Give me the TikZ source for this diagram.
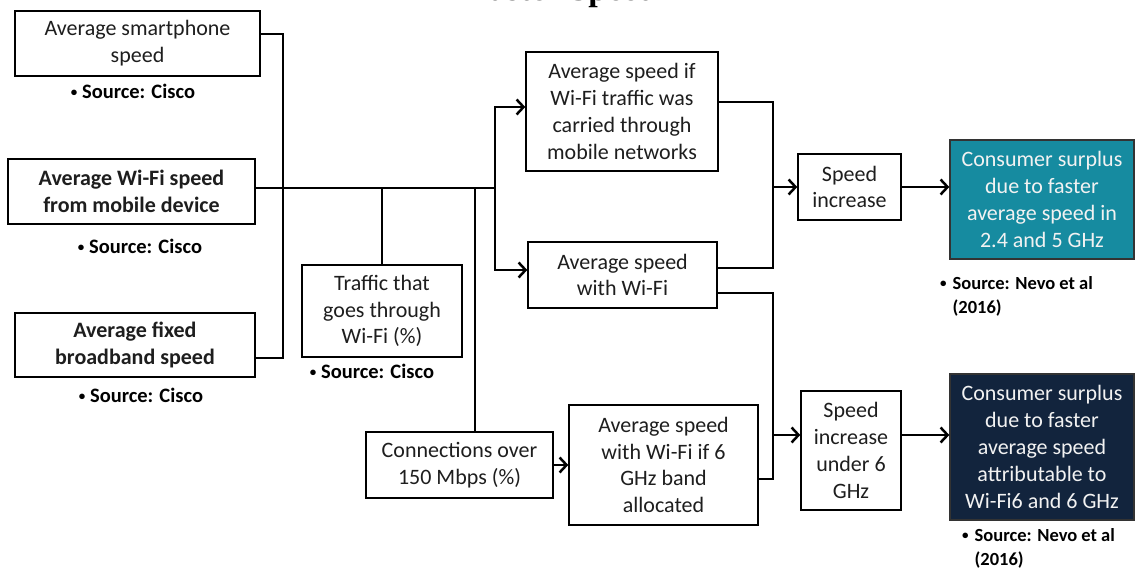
\documentclass[tikz,border=0pt]{standalone}
\usepackage{fontspec}
\setmainfont{Carlito}
\newfontfamily\headfont{Liberation Serif}
\usetikzlibrary{arrows.meta}

\definecolor{ink}{HTML}{1E1E1E}
\definecolor{tealbox}{HTML}{168BA0}
\definecolor{navybox}{HTML}{12243D}

\newcommand{\smallbullet}{{\fontsize{13}{13}\selectfont\raisebox{1.5pt}{•}}}

\tikzset{
  box/.style={draw=black, line width=1.4pt, fill=white, text=ink, align=center,
    inner sep=0pt, font=\fontsize{22}{26.8}\selectfont},
  boldbox/.style={box, font=\bfseries\fontsize{22}{26.8}\selectfont},
  colbox/.style={box, draw=black!80, text=white!95!black},
  src/.style={font=\bfseries\fontsize{20.5}{24}\selectfont, text=black, inner sep=0pt},
  srcsmall/.style={font=\bfseries\fontsize{18.5}{24}\selectfont, text=black, inner sep=0pt, anchor=north west},
  wire/.style={line width=2.5pt, line join=miter},
  arr/.style={wire, -{Straight Barb[length=7pt,width=15pt,line width=2.5pt]}},
}

\begin{document}
\begin{tikzpicture}[x=1pt, y=-1pt]
\useasboundingbox (0,0) rectangle (1135,570);
\clip (0,0) rectangle (1135,570);

% heading, mostly above the frame
\node[font=\headfont\bfseries\fontsize{34}{40}\selectfont, anchor=base east] (title) at (660,0.8) {Faster Speed};

% input boxes
\node[box, minimum width=245, minimum height=65] (b1) at (137.5,43.5) {Average smartphone\\speed};
\node[boldbox, minimum width=247, minimum height=65] (b2) at (131.5,191.5) {Average Wi-Fi speed\\from mobile device};
\node[boldbox, minimum width=240, minimum height=64] (b3) at (135,345) {Average fixed\\broadband speed};
\node[box, minimum width=160, minimum height=92] (b4) at (382,311) {Traffic that\\goes through\\Wi-Fi (\%)};
\node[box, minimum width=187, minimum height=66] (b5) at (459.5,465) {Connections over\\150 Mbps (\%)};

% intermediate boxes
\node[box, minimum width=192, minimum height=119] (b7) at (622,111.5) {Average speed if\\Wi-Fi traffic was\\carried through\\mobile networks};
\node[box, minimum width=189, minimum height=66] (b8) at (622.5,275) {Average speed\\with Wi-Fi};
\node[box, minimum width=189, minimum height=120] (b6) at (663.5,465) {Average speed\\with Wi-Fi if 6\\GHz band\\allocated};
\node[box, minimum width=103, minimum height=66] (b9) at (849.5,187) {Speed\\increase};
\node[box, minimum width=100, minimum height=119] (b10) at (851,450.5) {Speed\\increase\\under 6\\GHz};

% results
\node[colbox, fill=tealbox, minimum width=184, minimum height=119] (b12) at (1042,199.5) {Consumer surplus\\due to faster\\average speed in\\2.4 and 5 GHz};
\node[colbox, fill=navybox, minimum width=184, minimum height=146] (b11) at (1042,447) {Consumer surplus\\due to faster\\average speed\\attributable to\\Wi-Fi6 and 6 GHz};

% sources
\node[src] (s1) at (133,91) {\smallbullet\ Source: Cisco};
\node[src] (s2) at (140,246) {\smallbullet\ Source: Cisco};
\node[src] (s3) at (141,395) {\smallbullet\ Source: Cisco};
\node[src] (s4) at (372,371) {\smallbullet\ Source: Cisco};
\node[srcsmall] (s5) at (940,272) {\begin{tabular}{@{}l@{\hspace{6pt}}l@{}}\smallbullet&Source: Nevo et al\\&(2016)\end{tabular}};
\node[srcsmall] (s6) at (962,524) {\begin{tabular}{@{}l@{\hspace{6pt}}l@{}}\smallbullet&Source: Nevo et al\\&(2016)\end{tabular}};

% junction points
\coordinate (vtop) at (283,34);
\coordinate (vbot) at (283,358);
\coordinate (split) at (495,188);
\coordinate (m1) at (773,187);
\coordinate (m2) at (773,435);

% collecting the three speed inputs
\draw[wire] ([yshift=9.5pt]b1.east) -- (vtop) -- (vbot) -- ([yshift=-13pt]b3.east);
\draw[wire] ([yshift=3.5pt]b2.east) -- (split);
\draw[wire] (b4.north) -- (b4.north |- split);
\draw[wire] ([xshift=15.5pt]b5.north) -- ([xshift=15.5pt]b5.north |- split);

% branches to the two average speeds
\draw[arr] (split) |- ([yshift=4.5pt]b7.west);
\draw[arr] (split) |- ([yshift=5pt]b8.west);
\draw[arr] (b5.east) -- (b6.west);

% speed differences
\draw[wire] ([yshift=9.5pt]b7.east) -| (m1) |- ([yshift=7pt]b8.east);
\draw[arr] (m1) -- (m1 -| b9.west);
\draw[wire] ([yshift=-18pt]b8.east) -| (m2) |- ([yshift=-14pt]b6.east);
\draw[arr] (m2) -- (m2 -| b10.west);

% to the consumer surplus results
\draw[arr] (b9.east) -- (b9.east -| b12.west);
\draw[arr] (m2 -| b10.east) -- (m2 -| b11.west);
\end{tikzpicture}
\end{document}
